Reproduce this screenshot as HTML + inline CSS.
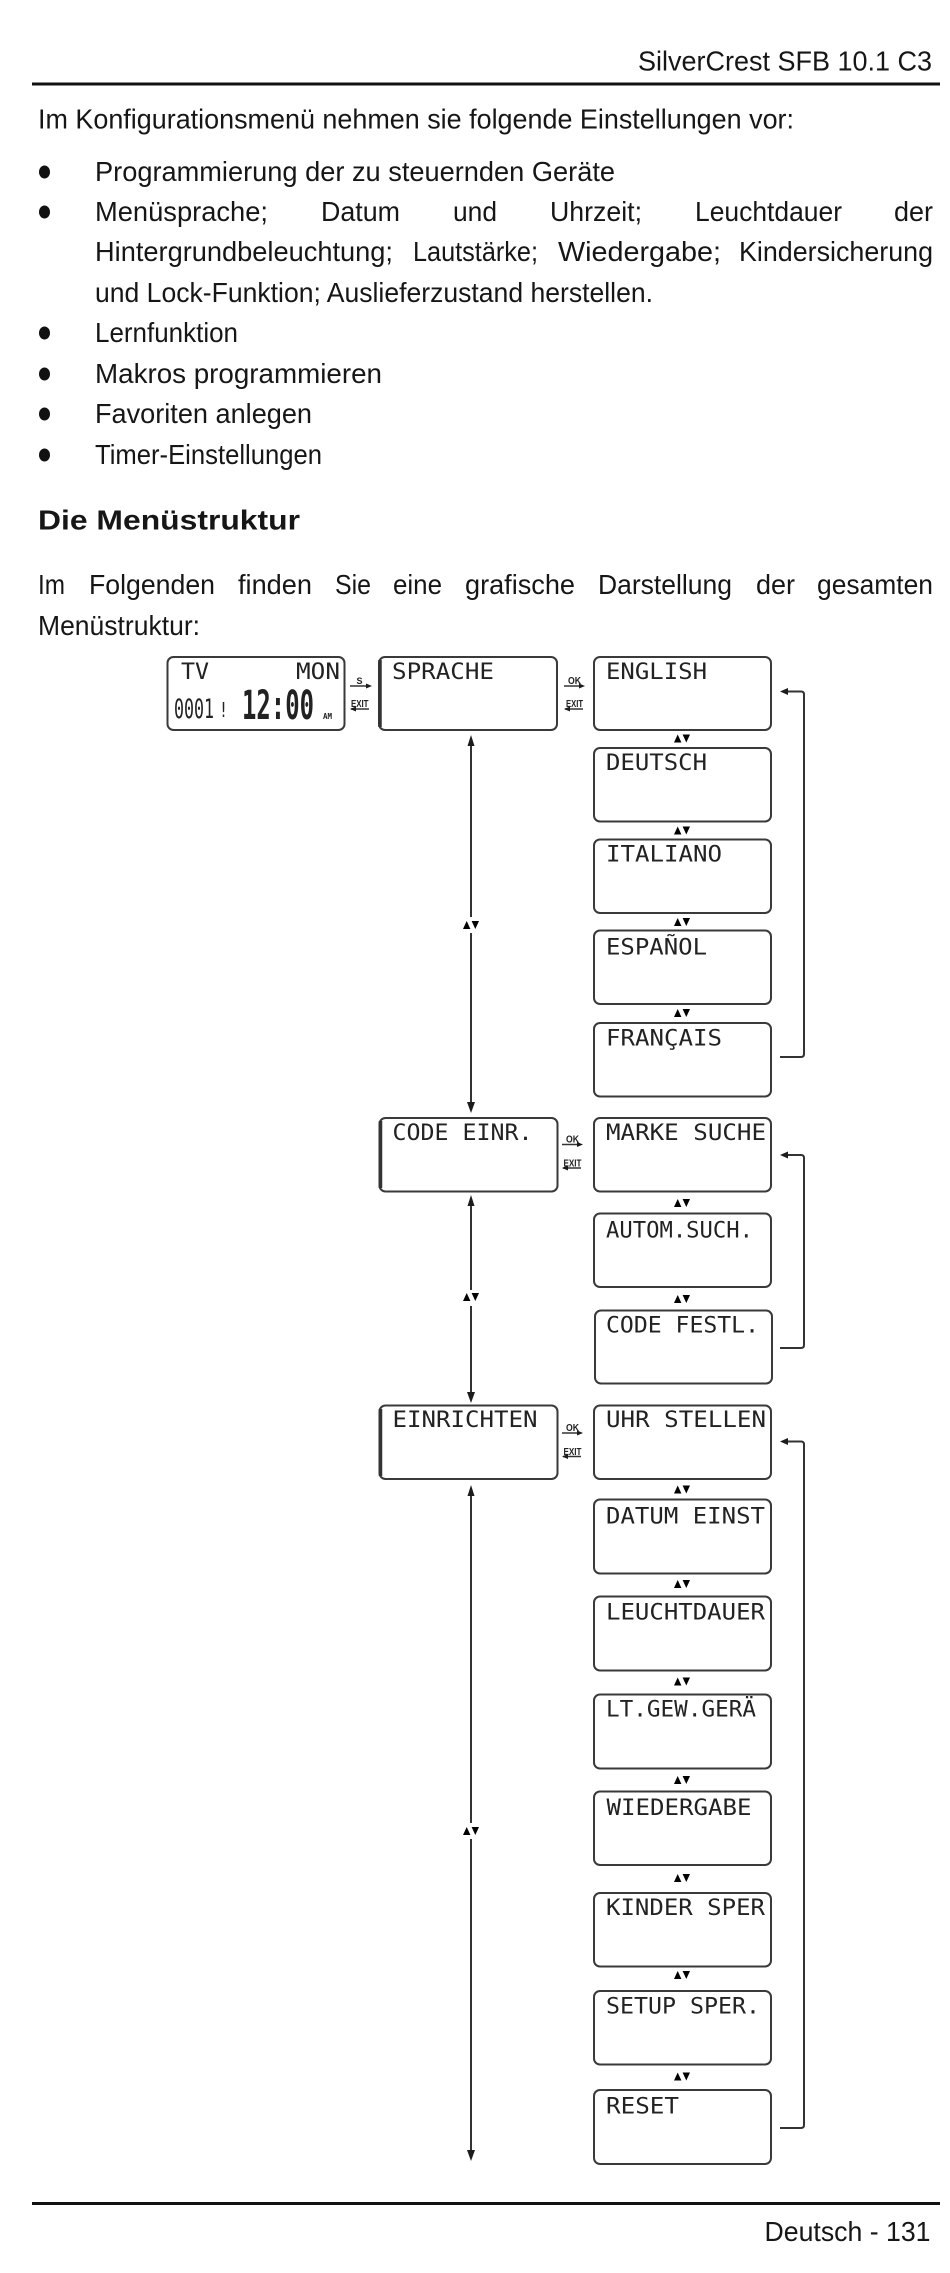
<!DOCTYPE html>
<html lang="de">
<head>
<meta charset="utf-8">
<title>SilverCrest SFB 10.1 C3</title>
<style>
html,body{margin:0;padding:0;background:#fff;width:950px;height:2273px;overflow:hidden}
svg{display:block;filter:blur(.35px)}
.t text{font-family:"Liberation Sans",sans-serif;font-size:28px;fill:#161616}
.l text{font-family:"DejaVu Sans Mono","Liberation Mono",monospace;font-size:22px;fill:#222}
.s text{font-family:"Liberation Sans",sans-serif;font-size:10px;font-weight:bold;fill:#222}
.b rect{fill:#fff;stroke:#3a3a3a;stroke-width:2}
.c path,.c line{fill:none;stroke:#333;stroke-width:2}
.c polygon,.a polygon{fill:#1c1c1c;stroke:none}
</style>
</head>
<body>
<svg width="950" height="2273" viewBox="0 0 950 2273" xmlns="http://www.w3.org/2000/svg">
<defs>
<g id="ud"><polygon points="-8,4 -0.6,4 -4.3,-4"/><polygon points="0.6,-4 8,-4 4.3,4"/></g>
</defs>
<rect x="32" y="82.5" width="908" height="3" fill="#111"/>
<rect x="32" y="2202" width="908" height="3" fill="#111"/>
<g class="t">
<text x="638" y="70.5" textLength="294" lengthAdjust="spacingAndGlyphs">SilverCrest SFB 10.1 C3</text>
<text x="38" y="128.5" textLength="756" lengthAdjust="spacingAndGlyphs">Im Konfigurationsmenü nehmen sie folgende Einstellungen vor:</text>
<text x="95" y="181" textLength="520" lengthAdjust="spacingAndGlyphs">Programmierung der zu steuernden Geräte</text>
<text x="95" y="221" textLength="173" lengthAdjust="spacingAndGlyphs">Menüsprache;</text>
<text x="321" y="221" textLength="79" lengthAdjust="spacingAndGlyphs">Datum</text>
<text x="453" y="221" textLength="44" lengthAdjust="spacingAndGlyphs">und</text>
<text x="550" y="221" textLength="92" lengthAdjust="spacingAndGlyphs">Uhrzeit;</text>
<text x="695" y="221" textLength="147" lengthAdjust="spacingAndGlyphs">Leuchtdauer</text>
<text x="894" y="221" textLength="39" lengthAdjust="spacingAndGlyphs">der</text>
<text x="95" y="261" textLength="298" lengthAdjust="spacingAndGlyphs">Hintergrundbeleuchtung;</text>
<text x="413" y="261" textLength="125" lengthAdjust="spacingAndGlyphs">Lautstärke;</text>
<text x="558" y="261" textLength="163" lengthAdjust="spacingAndGlyphs">Wiedergabe;</text>
<text x="739" y="261" textLength="194" lengthAdjust="spacingAndGlyphs">Kindersicherung</text>
<text x="95" y="302" textLength="558" lengthAdjust="spacingAndGlyphs">und Lock-Funktion; Auslieferzustand herstellen.</text>
<text x="95" y="342" textLength="143" lengthAdjust="spacingAndGlyphs">Lernfunktion</text>
<text x="95" y="383" textLength="287" lengthAdjust="spacingAndGlyphs">Makros programmieren</text>
<text x="95" y="423" textLength="217" lengthAdjust="spacingAndGlyphs">Favoriten anlegen</text>
<text x="95" y="464" textLength="227" lengthAdjust="spacingAndGlyphs">Timer-Einstellungen</text>
<text x="38" y="529.5" textLength="262" lengthAdjust="spacingAndGlyphs" font-weight="bold">Die Menüstruktur</text>
<text x="38" y="594" textLength="27" lengthAdjust="spacingAndGlyphs">Im</text>
<text x="89" y="594" textLength="126" lengthAdjust="spacingAndGlyphs">Folgenden</text>
<text x="238" y="594" textLength="74" lengthAdjust="spacingAndGlyphs">finden</text>
<text x="335" y="594" textLength="36" lengthAdjust="spacingAndGlyphs">Sie</text>
<text x="393" y="594" textLength="49" lengthAdjust="spacingAndGlyphs">eine</text>
<text x="465" y="594" textLength="110" lengthAdjust="spacingAndGlyphs">grafische</text>
<text x="598" y="594" textLength="134" lengthAdjust="spacingAndGlyphs">Darstellung</text>
<text x="756" y="594" textLength="39" lengthAdjust="spacingAndGlyphs">der</text>
<text x="817" y="594" textLength="116" lengthAdjust="spacingAndGlyphs">gesamten</text>
<text x="38" y="635" textLength="162" lengthAdjust="spacingAndGlyphs">Menüstruktur:</text>
<text x="764.5" y="2241" textLength="166" lengthAdjust="spacingAndGlyphs">Deutsch - 131</text>
</g>
<g fill="#111">
<ellipse cx="44.5" cy="172" rx="5.5" ry="6.5"/>
<ellipse cx="44.5" cy="212" rx="5.5" ry="6.5"/>
<ellipse cx="44.5" cy="333" rx="5.5" ry="6.5"/>
<ellipse cx="44.5" cy="374" rx="5.5" ry="6.5"/>
<ellipse cx="44.5" cy="414" rx="5.5" ry="6.5"/>
<ellipse cx="44.5" cy="455" rx="5.5" ry="6.5"/>
</g>
<g class="b">
<rect x="167.5" y="657" width="177" height="73" rx="6"/>
<rect x="379" y="657" width="178" height="73" rx="6"/>
<rect x="379.5" y="1118" width="178" height="73.5" rx="6"/>
<rect x="379.5" y="1405.5" width="178" height="73.5" rx="6"/>
<rect x="594" y="657" width="177" height="73" rx="6"/>
<rect x="594" y="748" width="177" height="73.5" rx="6"/>
<rect x="594" y="839.5" width="177" height="73.5" rx="6"/>
<rect x="594" y="930.5" width="177" height="73.5" rx="6"/>
<rect x="594" y="1023" width="177" height="73.5" rx="6"/>
<rect x="594" y="1118" width="177" height="73.5" rx="6"/>
<rect x="594" y="1213.5" width="177" height="73.5" rx="6"/>
<rect x="595" y="1310.5" width="177" height="73" rx="6"/>
<rect x="594" y="1405.5" width="177" height="73.5" rx="6"/>
<rect x="594" y="1499.5" width="177" height="74" rx="6"/>
<rect x="594" y="1596.5" width="177" height="74" rx="6"/>
<rect x="594" y="1694.5" width="177" height="74" rx="6"/>
<rect x="594" y="1791.5" width="177" height="73.5" rx="6"/>
<rect x="594" y="1893" width="177" height="73.5" rx="6"/>
<rect x="594" y="1991" width="177" height="73.5" rx="6"/>
<rect x="594" y="2090" width="177" height="74" rx="6"/>
</g>
<g stroke="#333" stroke-width="3.5">
<line x1="380" y1="660" x2="380" y2="727"/>
<line x1="380.5" y1="1121" x2="380.5" y2="1188"/>
<line x1="380.5" y1="1409" x2="380.5" y2="1476"/>
</g>
<g class="l">
<text x="181" y="679" textLength="28" lengthAdjust="spacingAndGlyphs">TV</text>
<text x="296" y="679" textLength="44" lengthAdjust="spacingAndGlyphs">MON</text>
<text x="174" y="718" textLength="40" lengthAdjust="spacingAndGlyphs" style="font-size:27px">0001</text>
<text x="219" y="717" textLength="9" lengthAdjust="spacingAndGlyphs" style="font-size:20px">!</text>
<text x="242" y="719" textLength="72" lengthAdjust="spacingAndGlyphs" style="font-size:40px;font-weight:bold">12:00</text>
<text x="323" y="719" textLength="9" lengthAdjust="spacingAndGlyphs" style="font-size:8px;font-weight:bold">AM</text>
<text x="392" y="679" textLength="102" lengthAdjust="spacingAndGlyphs">SPRACHE</text>
<text x="392.5" y="1140" textLength="140" lengthAdjust="spacingAndGlyphs">CODE EINR.</text>
<text x="392.5" y="1427" textLength="145" lengthAdjust="spacingAndGlyphs">EINRICHTEN</text>
<text x="606" y="679" textLength="101" lengthAdjust="spacingAndGlyphs">ENGLISH</text>
<text x="606" y="770" textLength="101" lengthAdjust="spacingAndGlyphs">DEUTSCH</text>
<text x="606" y="861.5" textLength="116" lengthAdjust="spacingAndGlyphs">ITALIANO</text>
<text x="606" y="954.5" textLength="101" lengthAdjust="spacingAndGlyphs">ESPAÑOL</text>
<text x="606" y="1045.5" textLength="116" lengthAdjust="spacingAndGlyphs">FRANÇAIS</text>
<text x="606" y="1140" textLength="160" lengthAdjust="spacingAndGlyphs">MARKE SUCHE</text>
<text x="606" y="1237.5" textLength="147" lengthAdjust="spacingAndGlyphs">AUTOM.SUCH.</text>
<text x="606" y="1332.5" textLength="153" lengthAdjust="spacingAndGlyphs">CODE FESTL.</text>
<text x="606" y="1427" textLength="160" lengthAdjust="spacingAndGlyphs">UHR STELLEN</text>
<text x="606" y="1523.5" textLength="159" lengthAdjust="spacingAndGlyphs">DATUM EINST</text>
<text x="606" y="1619.5" textLength="159" lengthAdjust="spacingAndGlyphs">LEUCHTDAUER</text>
<text x="606" y="1716.5" textLength="150" lengthAdjust="spacingAndGlyphs">LT.GEW.GERÄ</text>
<text x="606.5" y="1815" textLength="145" lengthAdjust="spacingAndGlyphs">WIEDERGABE</text>
<text x="606" y="1915" textLength="159" lengthAdjust="spacingAndGlyphs">KINDER SPER</text>
<text x="606" y="2013.5" textLength="154" lengthAdjust="spacingAndGlyphs">SETUP SPER.</text>
<text x="606" y="2113.5" textLength="73" lengthAdjust="spacingAndGlyphs">RESET</text>
</g>
<g class="s">
<text x="356.5" y="684" style="font-size:9px">S</text>
<text x="351" y="707" textLength="17.5" lengthAdjust="spacingAndGlyphs">EXIT</text>
<text x="568" y="684" textLength="13" lengthAdjust="spacingAndGlyphs">OK</text>
<text x="566" y="707" textLength="17" lengthAdjust="spacingAndGlyphs">EXIT</text>
<text x="566" y="1142.5" textLength="13" lengthAdjust="spacingAndGlyphs">OK</text>
<text x="563.5" y="1166.5" textLength="18" lengthAdjust="spacingAndGlyphs">EXIT</text>
<text x="566" y="1431" textLength="13" lengthAdjust="spacingAndGlyphs">OK</text>
<text x="563.5" y="1455" textLength="18" lengthAdjust="spacingAndGlyphs">EXIT</text>
</g>
<g class="c">
<path d="M350 686H369 M351 709H369 M564 686H583 M565 709H583 M562 1144.5H581 M563 1168H581 M562 1433H581 M563 1456.5H581" style="stroke-width:1.4"/>
<polygon points="372,686 366,683.5 366,688.5"/>
<polygon points="350,709 356,706.5 356,711.5"/>
<polygon points="585,686 579,683.5 579,688.5"/>
<polygon points="564,709 570,706.5 570,711.5"/>
<polygon points="583,1144.5 577,1142 577,1147"/>
<polygon points="562,1168 568,1165.5 568,1170.5"/>
<polygon points="583,1433 577,1430.5 577,1435.5"/>
<polygon points="562,1456.5 568,1454 568,1459"/>

<line x1="471" y1="742" x2="471" y2="917"/>
<line x1="471" y1="933" x2="471" y2="1104"/>
<polygon points="471,735 467.5,746 474.5,746"/>
<polygon points="471,1113 467,1102 475,1102"/>
<line x1="471" y1="1202" x2="471" y2="1290"/>
<line x1="471" y1="1306" x2="471" y2="1394"/>
<polygon points="471,1195 467.5,1206 474.5,1206"/>
<polygon points="471,1403 467,1392 475,1392"/>
<line x1="471" y1="1492" x2="471" y2="1823"/>
<line x1="471" y1="1839" x2="471" y2="2152"/>
<polygon points="471,1485 467.5,1496 474.5,1496"/>
<polygon points="471,2161 467,2150 475,2150"/>

<path d="M785 691.5H801Q804 691.5 804 694.5V1054Q804 1057 801 1057H780"/>
<polygon points="780,691.5 788,688 788,695"/>
<path d="M785 1155H801Q804 1155 804 1158V1345Q804 1348 801 1348H780"/>
<polygon points="780,1155 788,1151.5 788,1158.5"/>
<path d="M785 1441.5H801Q804 1441.5 804 1444.5V2125Q804 2128 801 2128H780"/>
<polygon points="780,1441.5 788,1438 788,1445"/>
</g>
<g class="a">
<use href="#ud" x="471" y="925"/>
<use href="#ud" x="471" y="1297"/>
<use href="#ud" x="471" y="1831"/>
<use href="#ud" x="682" y="738.5"/>
<use href="#ud" x="682" y="830.5"/>
<use href="#ud" x="682" y="922"/>
<use href="#ud" x="682" y="1013"/>
<use href="#ud" x="682" y="1203"/>
<use href="#ud" x="682" y="1299"/>
<use href="#ud" x="682" y="1489.5"/>
<use href="#ud" x="682" y="1584"/>
<use href="#ud" x="682" y="1681.5"/>
<use href="#ud" x="682" y="1780"/>
<use href="#ud" x="682" y="1878"/>
<use href="#ud" x="682" y="1975"/>
<use href="#ud" x="682" y="2076.5"/>
</g>
</svg>
</body>
</html>
